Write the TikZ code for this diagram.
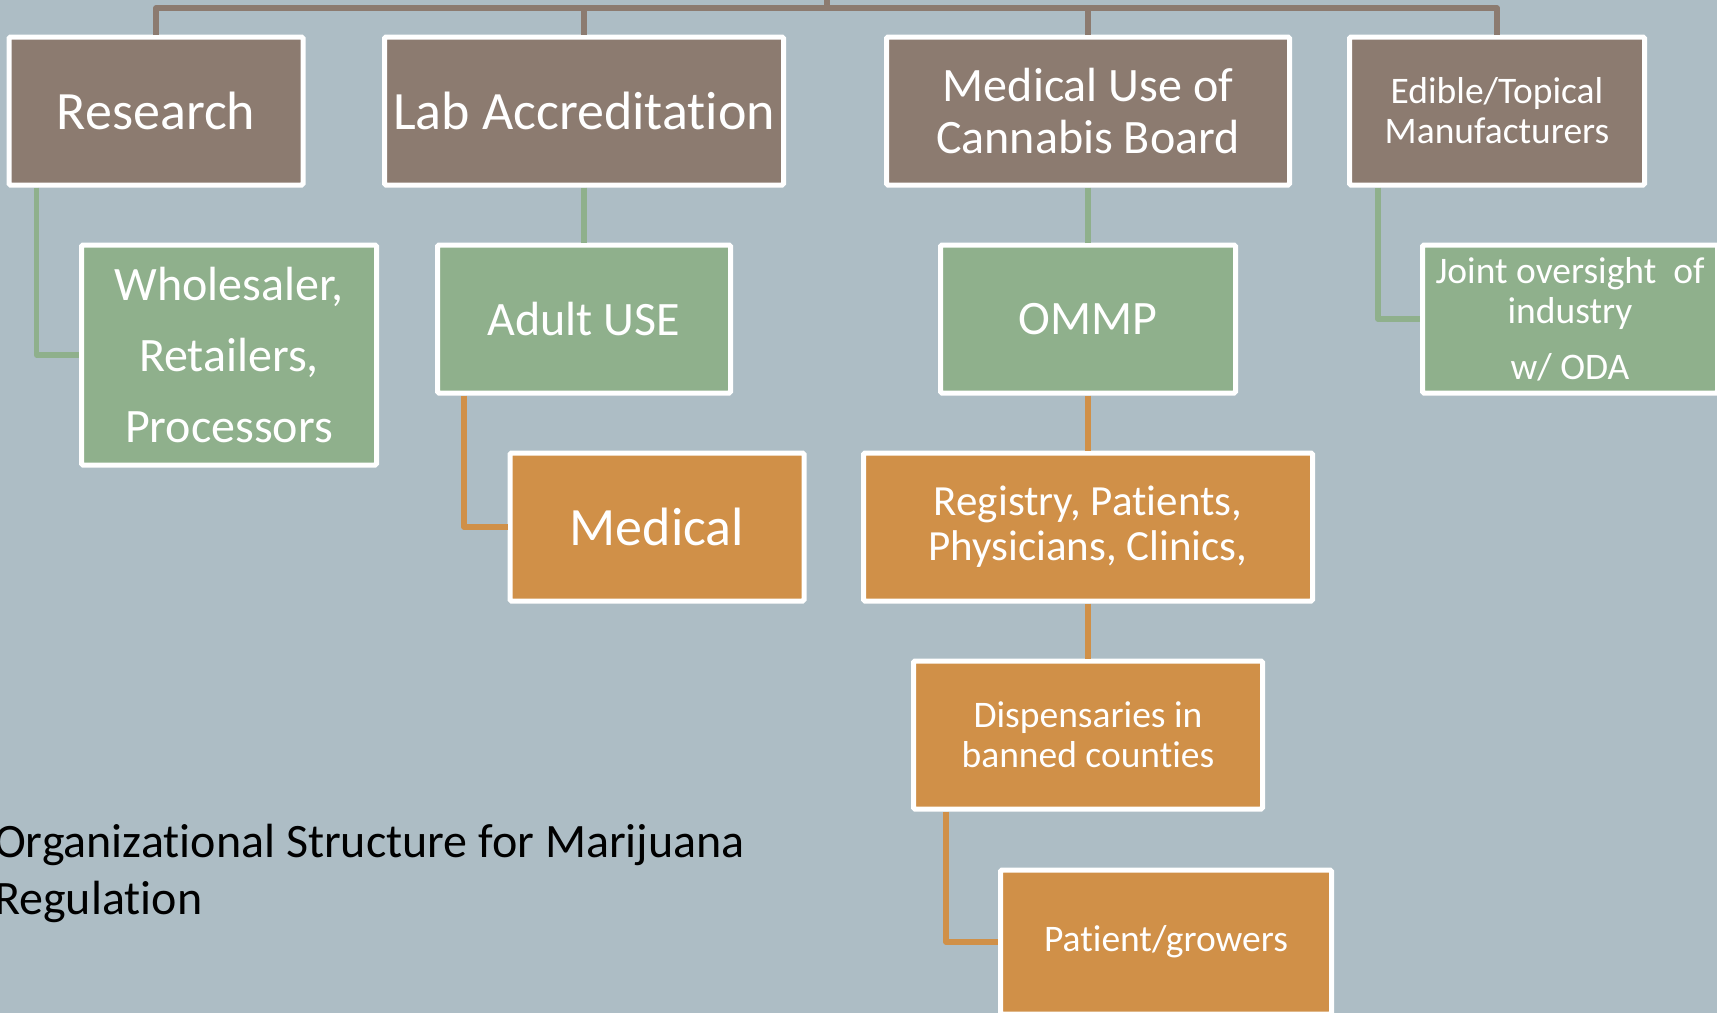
\documentclass[tikz,border=0pt]{standalone}
\usepackage{fontspec}
\setmainfont{Carlito}[Ligatures={NoCommon}]
\definecolor{bgc}{HTML}{ADBDC5}
\definecolor{brownc}{HTML}{8C7B70}
\definecolor{greenc}{HTML}{8FB08C}
\definecolor{orangec}{HTML}{D09048}
\begin{document}
\begin{tikzpicture}[x=1pt,y=-1pt,
  box/.style={draw=white, line width=5pt, rounded corners=1.5pt, inner sep=0pt, text=white, align=center, minimum height=148pt},
  bbox/.style={box, fill=brownc},
  gbox/.style={box, fill=greenc},
  obox/.style={box, fill=orangec},
  bline/.style={draw=brownc, line width=5.3pt, line join=round},
  gline/.style={draw=greenc, line width=5.3pt, line join=round},
  oline/.style={draw=orangec, line width=5.3pt, line join=round},
  fA/.style={font=\fontsize{54}{62}\selectfont},
  fB/.style={font=\fontsize{48}{52.5}\selectfont},
  fC/.style={font=\fontsize{43}{45}\selectfont},
  fD/.style={font=\fontsize{37.5}{40}\selectfont}]
\fill[bgc] (0,0) rectangle (1717,1013);
\useasboundingbox (0,0) rectangle (1717,1013);

% connectors (drawn first, boxes on top)
\coordinate (root) at (827,-3);
\coordinate (bar) at (827,8);

% top level
\node[bbox, fA, minimum width=294pt] (research) at (156,111) {Research};
\node[bbox, fA, minimum width=399pt] (lab) at (584,111) {Lab Accreditation};
\node[bbox, fB, minimum width=403pt] (mucb) at (1088,111) {Medical Use of\\Cannabis Board};
\node[bbox, fD, minimum width=295pt] (edible) at (1497,111) {Edible/Topical\\Manufacturers};

% second level
\node[gbox, font=\fontsize{48}{71}\selectfont, minimum width=295pt, minimum height=220pt] (whole) at (229,355) {Wholesaler,\\Retailers,\\Processors};
\node[gbox, fB, minimum width=293pt] (adult) at (584,319) {Adult USE};
\node[gbox, fB, minimum width=295pt] (ommp) at (1088,319) {OMMP};
\node[gbox, fD, minimum width=295pt] (joint) at (1570,319) {Joint oversight\ \ of\\industry\\[16pt]w/ ODA};

% third level
\node[obox, fA, minimum width=294pt] (medical) at (657,527) {Medical};
\node[obox, fC, minimum width=449pt] (registry) at (1088,527) {Registry, Patients,\\Physicians, Clinics,};
\node[obox, fD, minimum width=349pt] (disp) at (1088,735) {Dispensaries in\\banned counties};
\node[obox, fD, minimum width=331pt, minimum height=144pt] (patient) at (1166,942) {Patient/growers};

% title
\node[anchor=west, align=left, inner sep=0pt, font=\fontsize{48}{57}\selectfont] (title) at (-6,873) {Organizational Structure for Marijuana\\Regulation};

% connectors
\draw[bline] (root) -- (bar);
\draw[bline] (research.north) |- (bar) -| (edible.north);
\draw[bline] (lab.north) -- (lab.north |- bar);
\draw[bline] (mucb.north) -- (mucb.north |- bar);

\draw[gline] ([xshift=30pt]research.south west) |- (whole.west);
\draw[gline] (lab.south) -- (adult.north);
\draw[gline] (mucb.south) -- (ommp.north);
\draw[gline] ([xshift=31pt]edible.south west) |- (joint.west);

\draw[oline] ([xshift=29pt]adult.south west) |- (medical.west);
\draw[oline] (ommp.south) -- (registry.north);
\draw[oline] (registry.south) -- (disp.north);
\draw[oline] ([xshift=35pt]disp.south west) |- (patient.west);
\end{tikzpicture}
\end{document}
